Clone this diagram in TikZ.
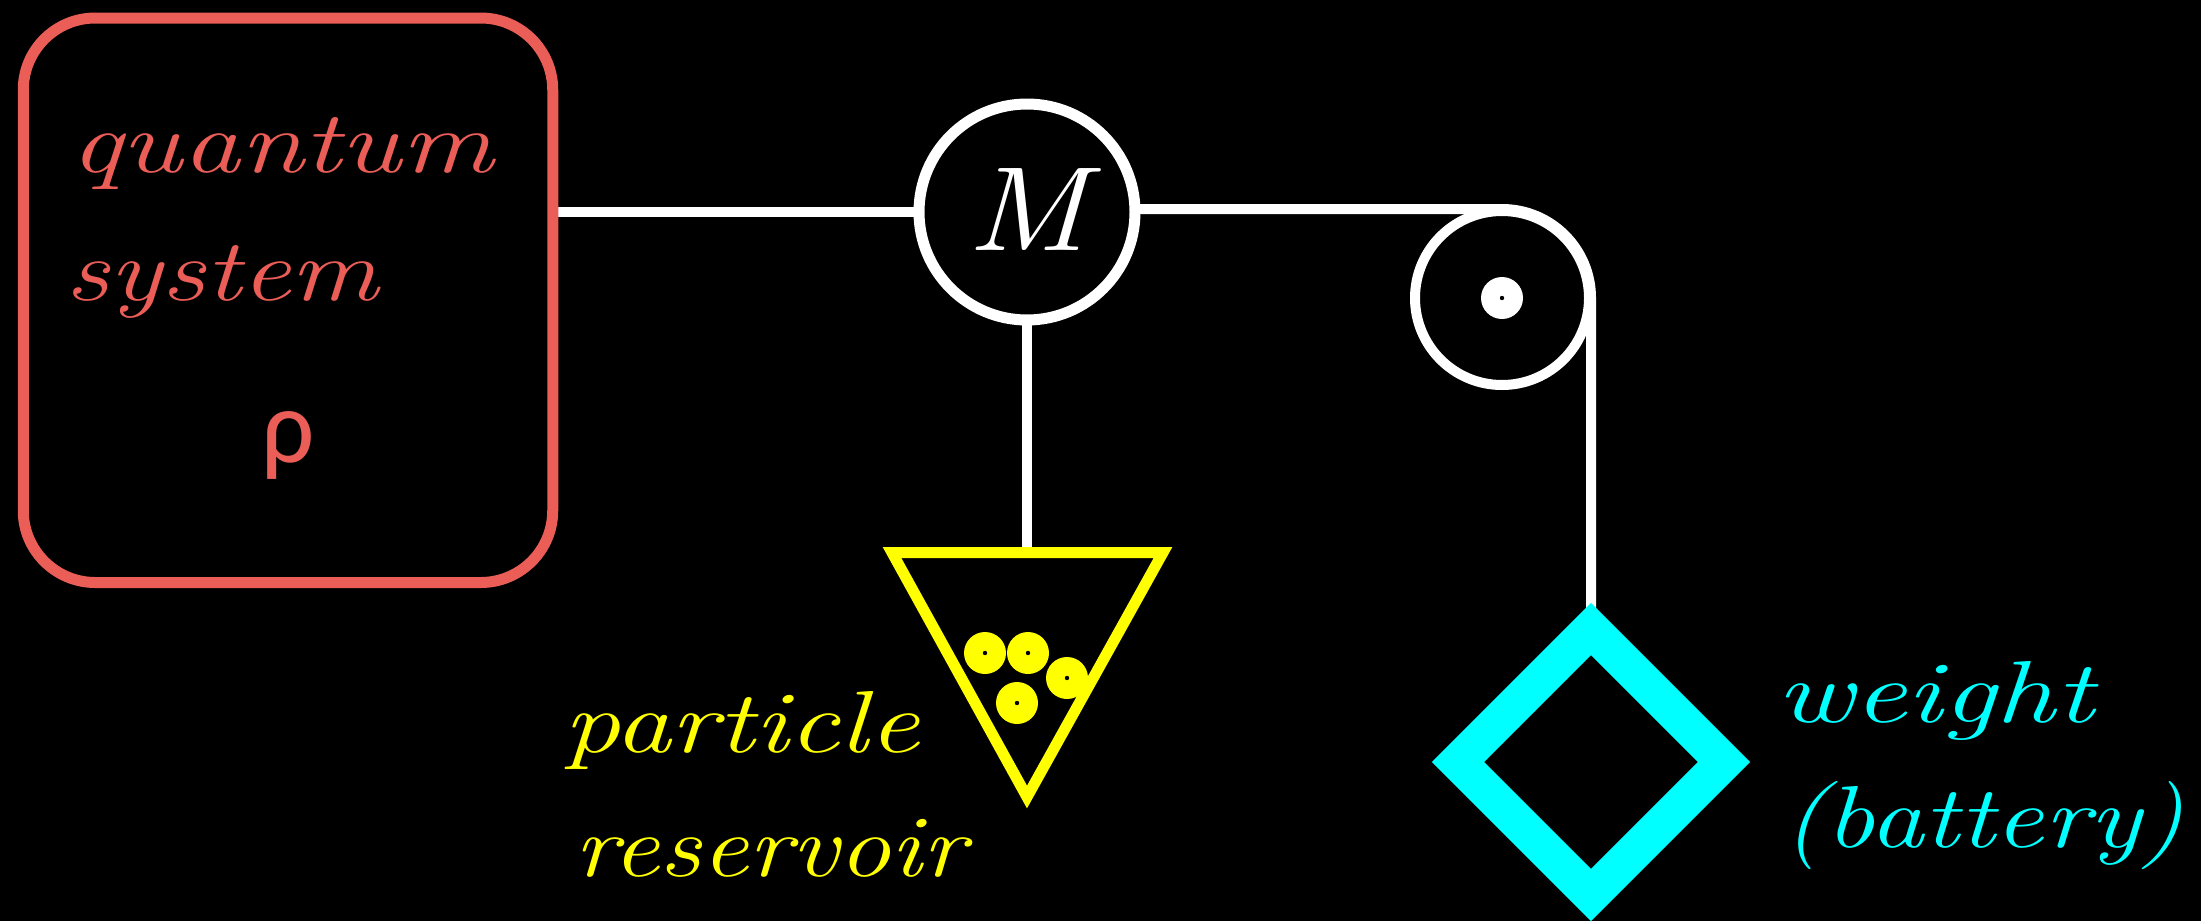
\documentclass[tikz,border=0pt]{standalone}
\usepackage{fontspec}
\usepackage{graphicx}
\newfontfamily\rhofont{Carlito}
\usetikzlibrary{shapes.geometric}
\definecolor{qred}{HTML}{EB5D57}
\definecolor{ryel}{HTML}{FFFF00}
\definecolor{wcyan}{HTML}{00FFFF}
\begin{document}
\begin{tikzpicture}[x=1pt,y=1pt,
  hand/.style={font=\fontsize{88}{100}\selectfont\itshape, inner sep=0, outer sep=0, anchor=base west},
  rope/.style={draw=white, line width=10},
  particle/.style={circle, fill=ryel, minimum size=42, inner sep=0, outer sep=0}]
\fill[black] (0,0) rectangle (2201,-921);
\useasboundingbox (0,0) rectangle (2201,-921);

% nodes
\node[minimum width=529.5, minimum height=564.5, inner sep=0, outer sep=0] (qs) at (288,-300.25) {};
\node[circle, draw=white, line width=11, minimum size=216, inner sep=0, outer sep=0,
      font=\fontsize{120}{130}\selectfont\itshape, text=white] (M) at (1027,-212) {\raisebox{5pt}{\scalebox{1.15}[1]{M}}};
\node[circle, draw=white, line width=10, minimum size=174, inner sep=0, outer sep=0] (pul) at (1502,-298) {};
\node[circle, fill=white, minimum size=42, inner sep=0] (hub) at (pul.center) {};
\fill[black] (hub.center) circle (2.2);

\coordinate (rtl) at (892,-552.5);
\coordinate (rtr) at (1163,-552.5);
\coordinate (rb) at (1027,-797);
\node[diamond, aspect=1, minimum size=266, inner sep=0, outer sep=0] (weight) at (1591,-762) {};

% connectors
\draw[rope] (qs.east |- M.west) -- (M.west);
\draw[rope] (M.south) -- (M.south |- rtl);
\draw[rope] ([yshift=3]M.east) -- ([yshift=3]M.east -| pul.center) arc[start angle=90, end angle=0, radius=89] -- (weight.north);

% quantum system box
\draw[draw=qred, line width=11, rounded corners=72] (qs.south west) rectangle (qs.north east);

% reservoir
\draw[draw=ryel, line width=11] (rtl) -- (rtr) -- (rb) -- cycle;
\node[particle] (p1) at (985,-653) {};
\node[particle] (p2) at (1028,-653) {};
\node[particle] (p3) at (1067,-678) {};
\node[particle] (p4) at (1017,-703) {};
\foreach \p in {p1,p2,p3,p4} \fill[black] (\p.center) circle (2.2);

% weight
\node[diamond, draw=wcyan, line width=37, aspect=1, minimum size=266, inner sep=0, outer sep=0] at (weight.center) {};

% texts
\node[hand, text=qred] (q1) at (70,-172) {\scalebox{1.31}[1]{quantum}};
\node[hand, text=qred] (q2) at (65,-300) {\scalebox{1.25}[1]{system}};
\node[font=\rhofont\fontsize{105}{110}\selectfont, text=qred, inner sep=0] (rho) at (288,-445) {ρ};
\node[hand, text=ryel] (r1) at (563,-752) {\scalebox{1.29}[1]{particle}};
\node[hand, text=ryel] (r2) at (574,-876) {\scalebox{1.19}[1]{reservoir}};
\node[hand, text=wcyan] (w1) at (1776,-722) {\scalebox{1.35}[1]{weight}};
\node[hand, text=wcyan] (w2) at (1782,-847) {\scalebox{1.24}[1]{(battery)}};
\end{tikzpicture}
\end{document}
